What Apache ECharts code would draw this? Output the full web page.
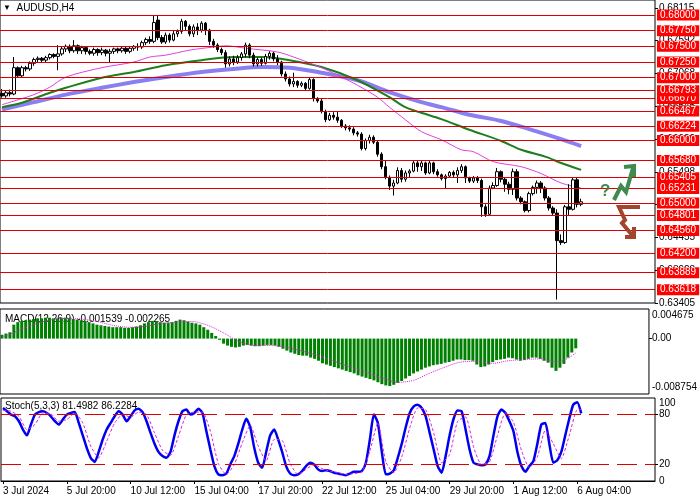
<!DOCTYPE html>
<html>
<head>
<meta charset="utf-8">
<title>AUDUSD,H4</title>
<script src="https://cdn.jsdelivr.net/npm/echarts@6/dist/echarts.min.js"></script>
<style>
  html, body { margin: 0; padding: 0; background: #fff; }
  #chart { width: 700px; height: 500px; }
</style>
</head>
<body>
<div id="chart"></div>
<script>
const FONT = '"Liberation Sans", Arial, sans-serif';
const FS = 10;

// H4 bars, 3 Jul 04:00 .. 6 Aug 08:00 (weekends skipped), plus empty slots on the right
const barCount = 146;
const padSlots = 18;

// [open, close, low, high]
const candles = [
  [0.6675,0.6671,0.6668,0.6682],[0.6671,0.6676,0.6668,0.6680],[0.6676,0.6674,0.6670,0.6681],[0.6674,0.6716,0.6672,0.6733],
  [0.6716,0.6703,0.6700,0.6718],[0.6703,0.6716,0.6701,0.6719],[0.6716,0.6714,0.6710,0.6719],[0.6714,0.6723,0.6711,0.6726],
  [0.6723,0.6729,0.6719,0.6732],[0.6729,0.6731,0.6725,0.6734],[0.6731,0.6728,0.6725,0.6733],[0.6728,0.6732,0.6725,0.6735],
  [0.6732,0.6737,0.6729,0.6739],[0.6737,0.6734,0.6731,0.6739],[0.6734,0.6738,0.6712,0.6752],[0.6738,0.6746,0.6735,0.6749],
  [0.6746,0.6750,0.6741,0.6753],[0.6750,0.6743,0.6739,0.6753],[0.6743,0.6751,0.6740,0.6760],[0.6751,0.6743,0.6738,0.6753],
  [0.6743,0.6748,0.6738,0.6751],[0.6748,0.6742,0.6737,0.6750],[0.6742,0.6739,0.6736,0.6745],[0.6739,0.6745,0.6735,0.6748],
  [0.6745,0.6740,0.6735,0.6747],[0.6740,0.6744,0.6736,0.6748],[0.6744,0.6739,0.6734,0.6746],[0.6739,0.6742,0.6725,0.6746],
  [0.6742,0.6746,0.6738,0.6748],[0.6746,0.6743,0.6739,0.6748],[0.6743,0.6747,0.6740,0.6749],[0.6747,0.6742,0.6738,0.6749],
  [0.6742,0.6747,0.6739,0.6750],[0.6747,0.6750,0.6743,0.6752],[0.6750,0.6749,0.6743,0.6755],[0.6749,0.6756,0.6746,0.6759],
  [0.6756,0.6761,0.6752,0.6764],[0.6761,0.6758,0.6754,0.6766],[0.6758,0.6788,0.6755,0.6800],[0.6792,0.6764,0.6760,0.6800],
  [0.6764,0.6757,0.6754,0.6768],[0.6757,0.6768,0.6754,0.6772],[0.6768,0.6760,0.6756,0.6771],[0.6760,0.6770,0.6758,0.6775],
  [0.6770,0.6774,0.6765,0.6777],[0.6774,0.6790,0.6770,0.6794],[0.6790,0.6782,0.6776,0.6792],[0.6782,0.6770,0.6766,0.6785],
  [0.6770,0.6781,0.6765,0.6785],[0.6781,0.6776,0.6768,0.6787],[0.6776,0.6787,0.6772,0.6790],[0.6787,0.6776,0.6768,0.6789],
  [0.6776,0.6758,0.6752,0.6778],[0.6758,0.6752,0.6748,0.6762],[0.6752,0.6745,0.6741,0.6755],[0.6745,0.6740,0.6736,0.6748],
  [0.6740,0.6722,0.6716,0.6744],[0.6722,0.6730,0.6718,0.6734],[0.6730,0.6725,0.6720,0.6735],[0.6725,0.6732,0.6722,0.6736],
  [0.6732,0.6738,0.6727,0.6741],[0.6738,0.6752,0.6733,0.6756],[0.6752,0.6736,0.6731,0.6755],[0.6736,0.6722,0.6718,0.6740],
  [0.6722,0.6729,0.6718,0.6732],[0.6729,0.6723,0.6719,0.6732],[0.6723,0.6734,0.6721,0.6738],[0.6734,0.6739,0.6729,0.6742],
  [0.6739,0.6730,0.6726,0.6741],[0.6730,0.6725,0.6720,0.6736],[0.6725,0.6706,0.6702,0.6727],[0.6706,0.6698,0.6694,0.6710],
  [0.6698,0.6690,0.6686,0.6702],[0.6690,0.6694,0.6685,0.6708],[0.6694,0.6688,0.6684,0.6696],[0.6688,0.6691,0.6685,0.6694],
  [0.6691,0.6683,0.6680,0.6693],[0.6683,0.6697,0.6681,0.6701],[0.6697,0.6667,0.6662,0.6699],[0.6667,0.6663,0.6660,0.6669],
  [0.6663,0.6646,0.6643,0.6666],[0.6646,0.6633,0.6629,0.6649],[0.6633,0.6640,0.6631,0.6644],[0.6640,0.6637,0.6633,0.6645],
  [0.6637,0.6632,0.6628,0.6646],[0.6632,0.6623,0.6620,0.6634],[0.6623,0.6620,0.6616,0.6626],[0.6620,0.6618,0.6614,0.6624],
  [0.6618,0.6612,0.6608,0.6621],[0.6612,0.6610,0.6606,0.6615],[0.6610,0.6587,0.6584,0.6613],[0.6587,0.6600,0.6584,0.6603],
  [0.6600,0.6605,0.6595,0.6609],[0.6605,0.6597,0.6594,0.6608],[0.6597,0.6578,0.6574,0.6600],[0.6578,0.6558,0.6554,0.6581],
  [0.6558,0.6541,0.6538,0.6567],[0.6541,0.6527,0.6521,0.6544],[0.6527,0.6532,0.6512,0.6537],[0.6532,0.6552,0.6530,0.6557],
  [0.6552,0.6538,0.6533,0.6556],[0.6538,0.6548,0.6534,0.6552],[0.6548,0.6551,0.6541,0.6554],[0.6551,0.6564,0.6549,0.6567],
  [0.6564,0.6558,0.6550,0.6567],[0.6558,0.6564,0.6551,0.6567],[0.6564,0.6548,0.6545,0.6566],[0.6548,0.6564,0.6546,0.6567],
  [0.6564,0.6550,0.6546,0.6566],[0.6550,0.6545,0.6542,0.6554],[0.6545,0.6539,0.6536,0.6547],[0.6539,0.6543,0.6524,0.6546],
  [0.6543,0.6549,0.6540,0.6551],[0.6549,0.6545,0.6541,0.6552],[0.6545,0.6552,0.6532,0.6557],[0.6552,0.6558,0.6548,0.6562],
  [0.6558,0.6540,0.6532,0.6560],[0.6540,0.6535,0.6532,0.6542],[0.6535,0.6540,0.6532,0.6543],[0.6540,0.6536,0.6532,0.6543],
  [0.6536,0.6494,0.6478,0.6539],[0.6494,0.6482,0.6478,0.6498],[0.6482,0.6524,0.6480,0.6528],[0.6524,0.6528,0.6522,0.6533],
  [0.6528,0.6550,0.6526,0.6556],[0.6550,0.6538,0.6533,0.6552],[0.6538,0.6530,0.6518,0.6541],[0.6530,0.6522,0.6514,0.6534],
  [0.6522,0.6550,0.6513,0.6555],[0.6550,0.6508,0.6504,0.6554],[0.6508,0.6502,0.6498,0.6511],[0.6502,0.6488,0.6485,0.6504],
  [0.6488,0.6515,0.6485,0.6518],[0.6515,0.6525,0.6512,0.6528],[0.6525,0.6532,0.6515,0.6536],[0.6532,0.6524,0.6516,0.6535],
  [0.6524,0.6508,0.6504,0.6527],[0.6508,0.6492,0.6488,0.6511],[0.6492,0.6484,0.6480,0.6495],[0.6484,0.6440,0.6346,0.6490],
  [0.6440,0.6437,0.6433,0.6450],[0.6437,0.6494,0.6435,0.6497],[0.6494,0.6490,0.6481,0.6530],[0.6490,0.6537,0.6488,0.6541],
  [0.6537,0.6498,0.6493,0.6540],[0.6498,0.6502,0.6495,0.6507]
];

// moving averages: [bar index, price]
const maFast = [[0,0.6657],[8,0.6673],[12,0.6685],[16,0.6701],[25,0.6716],[33,0.6725],[37,0.6733],[41,0.6736],[47,0.6744],
  [53,0.6749],[56,0.6751],[61,0.6747],[69,0.6741],[73,0.6733],[80,0.6716],[85,0.6701],[89,0.6688],[94,0.6669],[97,0.6653],
  [101,0.6633],[105,0.6614],[110,0.6601],[115,0.6585],[118,0.6582],[123,0.6566],[130,0.6558],[135,0.6547],[140,0.6532],[145,0.6524]];
const maMid = [[0,0.6653],[5,0.6660],[12,0.6676],[16,0.6684],[25,0.6700],[33,0.6709],[41,0.6720],[50,0.6728],[58,0.6733],
  [65,0.6733],[72,0.6728],[80,0.6717],[89,0.6696],[97,0.6669],[101,0.6653],[105,0.6644],[110,0.6634],[117,0.6617],[125,0.6599],
  [130,0.6585],[136,0.6574],[140,0.6564],[145,0.6553]];
const maSlow = [[0,0.6649],[8,0.6661],[16,0.6673],[25,0.6684],[33,0.6693],[41,0.6701],[50,0.6709],[58,0.6714],[65,0.6717],
  [72,0.6716],[80,0.6708],[89,0.6696],[97,0.6677],[105,0.6661],[110,0.6653],[117,0.6641],[125,0.6631],[132,0.6618],[140,0.6602],[145,0.6591]];

// horizontal levels with red tags, and the plain price scale labels
const levels = [0.66670, 0.68000, 0.67750, 0.67500, 0.67250, 0.67000, 0.66793, 0.66467, 0.66224, 0.66000,
  0.65680, 0.65405, 0.65231, 0.65000, 0.64801, 0.64560, 0.64200, 0.63889, 0.63618];
const priceTicks = [0.68115, 0.67592, 0.67068, 0.66545, 0.66022, 0.65498, 0.64975, 0.64455, 0.63928, 0.63405];

const macdHist = [
  0.0006,0.0008,0.0010,0.0022,0.0026,0.0028,0.0029,0.0030,0.0031,0.0032,
  0.0032,0.0033,0.0033,0.0032,0.0032,0.0033,0.0033,0.0032,0.0031,0.0030,
  0.0029,0.0028,0.0026,0.0024,0.0022,0.0021,0.0020,0.0019,0.0018,0.0018,
  0.0018,0.0017,0.0017,0.0018,0.0019,0.0021,0.0024,0.0026,0.0028,0.0027,
  0.0026,0.0025,0.0025,0.0026,0.0028,0.0030,0.0029,0.0027,0.0025,0.0024,
  0.0022,0.0018,0.0014,0.0009,0.0004,-0.0002,-0.0008,-0.0011,-0.0013,-0.0014,
  -0.0013,-0.0011,-0.0010,-0.0011,-0.0012,-0.0012,-0.0011,-0.0010,-0.0010,-0.0011,
  -0.0013,-0.0016,-0.0019,-0.0022,-0.0024,-0.0026,-0.0027,-0.0027,-0.0030,-0.0032,
  -0.0035,-0.0039,-0.0041,-0.0043,-0.0045,-0.0047,-0.0049,-0.0051,-0.0053,-0.0055,
  -0.0058,-0.0060,-0.0062,-0.0064,-0.0066,-0.0069,-0.0072,-0.0074,-0.0075,-0.0073,
  -0.0070,-0.0067,-0.0063,-0.0059,-0.0055,-0.0052,-0.0049,-0.0046,-0.0044,-0.0042,
  -0.0041,-0.0040,-0.0038,-0.0037,-0.0035,-0.0033,-0.0033,-0.0034,-0.0034,-0.0035,
  -0.0041,-0.0045,-0.0044,-0.0041,-0.0037,-0.0034,-0.0033,-0.0032,-0.0030,-0.0031,
  -0.0033,-0.0035,-0.0034,-0.0032,-0.0030,-0.0030,-0.0032,-0.0035,-0.0038,-0.0046,
  -0.0051,-0.0046,-0.0040,-0.0030,-0.0022,-0.00154
];
const macdSignal = [[0,0.0002],[4,0.0012],[8,0.0022],[12,0.0029],[16,0.0032],[20,0.0031],[24,0.0027],[28,0.0021],
  [32,0.0018],[36,0.0019],[40,0.0024],[44,0.0026],[48,0.0027],[52,0.0021],[56,0.0009],[60,-0.0005],[64,-0.0011],
  [68,-0.0011],[72,-0.0014],[76,-0.0020],[80,-0.0027],[84,-0.0036],[88,-0.0045],[92,-0.0053],[96,-0.0062],[100,-0.0069],
  [104,-0.0066],[108,-0.0055],[112,-0.0045],[116,-0.0037],[120,-0.0036],[124,-0.0039],[128,-0.0035],[132,-0.0033],
  [136,-0.0032],[140,-0.0037],[143,-0.0031],[145,-0.00227]];
const macdTicks = [0.004675, 0, -0.008754];

const stochMain = [
  88,84,80,78,72,62,55,68,80,83, 84,82,78,72,68,74,80,82,83,70,
  55,40,28,23,35,50,62,70,78,84, 80,72,78,85,87,83,72,58,45,35,
  30,28,35,55,72,84,86,80,82,87, 82,60,38,18,8,7,9,20,30,45,
  62,75,65,40,22,16,35,55,62,50, 35,18,9,7,8,12,18,22,20,14,
  12,13,12,10,9,8,7,9,11,11, 12,22,50,80,70,35,8,9,13,28,
  45,65,82,90,92,88,78,58,38,18, 10,30,55,75,85,84,62,38,22,20,
  19,20,30,55,78,86,82,72,60,35, 18,11,18,24,45,68,70,45,22,25,
  35,55,75,92,95,81.5
];
const stochSignal = [[0,85],[2,84],[4,78],[6,62],[8,68],[10,82],[12,81],[14,72],[16,74],[18,82],[20,70],[22,42],
  [24,28],[26,48],[28,70],[30,80],[32,77],[34,83],[36,80],[38,58],[40,37],[42,31],[44,54],[46,80],[48,83],[50,83],
  [52,60],[54,21],[56,8],[58,20],[60,46],[62,67],[64,42],[66,24],[68,50],[70,49],[72,21],[74,8],[76,14],[78,20],
  [80,15],[82,12],[84,10],[86,8],[88,9],[90,11],[92,36],[94,70],[96,23],[98,10],[100,29],[102,64],[104,88],[106,86],
  [108,58],[110,22],[112,32],[114,72],[116,77],[118,41],[120,20],[122,23],[124,55],[126,82],[128,71],[130,37],
  [132,16],[134,29],[136,61],[138,45],[140,27],[142,55],[144,86],[145,86.2]];
const stochLevels = [80, 20];
const stochTicks = [100, 80, 20];
const stochFloor = 0;

// category labels
const months = ['Jan','Feb','Mar','Apr','May','Jun','Jul','Aug','Sep','Oct','Nov','Dec'];
const categories = [];
for (let t = Date.UTC(2024, 6, 3, 4); categories.length < barCount; t += 4 * 3600 * 1000) {
  const d = new Date(t);
  const wd = d.getUTCDay();
  if (wd === 0 || wd === 6) continue;
  const hh = String(d.getUTCHours()).padStart(2, '0');
  categories.push(categories.length === 0
    ? d.getUTCDate() + ' ' + months[d.getUTCMonth()] + ' ' + d.getUTCFullYear()
    : d.getUTCDate() + ' ' + months[d.getUTCMonth()] + ' ' + hh + ':00');
}
for (let k = 0; k < padSlots; k++) categories.push('');

const chart = echarts.init(document.getElementById('chart'), null, { renderer: 'canvas' });

const gridBase = { left: 0, right: 45, show: true, borderColor: '#000', borderWidth: 1, backgroundColor: '#fff' };
const hiddenX = (gi) => ({
  type: 'category', gridIndex: gi, data: categories, boundaryGap: true,
  axisLine: { show: false }, axisTick: { show: false }, axisLabel: { show: false }, splitLine: { show: false }
});
const labelText = { color: '#000', fontSize: FS, fontFamily: FONT, showMinLabel: true, showMaxLabel: true };
const titleText = { fontSize: FS, fontWeight: 'normal', color: '#000', fontFamily: FONT };

chart.setOption({
  animation: false,
  backgroundColor: '#fff',
  textStyle: { fontFamily: FONT },
  title: [
    { text: '{tri|\u25BC}  AUDUSD,H4', left: 3, top: 3, padding: 0, z: 1,
      textStyle: Object.assign({ rich: { tri: { fontSize: 8, color: '#000' } } }, titleText) },
    { text: 'MACD(12,26,9) -0.001539 -0.002265', left: 5, top: 314, padding: 0, z: 1, textStyle: titleText },
    { text: 'Stoch(5,3,3) 81.4982 86.2284', left: 5, top: 401, padding: 0, z: 1, textStyle: titleText }
  ],
  grid: [
    Object.assign({ top: 0, height: 303 }, gridBase),
    Object.assign({ top: 309, height: 85 }, gridBase),
    Object.assign({ top: 398, height: 83 }, gridBase)
  ],
  xAxis: [
    hiddenX(0),
    hiddenX(1),
    {
      type: 'category', gridIndex: 2, data: categories, boundaryGap: true,
      axisLine: { show: true, lineStyle: { color: '#000' } },
      axisTick: { show: true, interval: 15, alignWithLabel: true, length: 3, lineStyle: { color: '#000' } },
      axisLabel: Object.assign({ interval: 15, align: 'left', margin: 5 }, labelText, { showMaxLabel: false }),
      splitLine: { show: false }
    }
  ],
  yAxis: [
    {
      type: 'value', gridIndex: 0, position: 'right', min: 0.63405, max: 0.6824,
      splitLine: { show: false }, axisLine: { show: false },
      axisTick: { show: true, customValues: priceTicks, length: 3, lineStyle: { color: '#000' } },
      axisLabel: Object.assign({ customValues: priceTicks, margin: 4, formatter: (v) => v.toFixed(5) }, labelText)
    },
    {
      type: 'value', gridIndex: 1, position: 'right', min: -0.008754, max: 0.004675,
      splitLine: { show: false }, axisLine: { show: false },
      axisTick: { show: true, customValues: [0], length: 3, lineStyle: { color: '#000' } },
      axisLabel: Object.assign({
        customValues: macdTicks, margin: 3,
        formatter: (v) => v === 0 ? '0.00' : (v > 0 ? '{t|' + v.toFixed(6) + '}' : '{b|' + v.toFixed(6) + '}'),
        rich: { t: { padding: [12, 0, 0, 0], fontSize: FS }, b: { padding: [0, 0, 14, 0], fontSize: FS } }
      }, labelText)
    },
    {
      type: 'value', gridIndex: 2, position: 'right', min: 0, max: 100,
      splitLine: { show: false }, axisLine: { show: false },
      axisTick: { show: true, customValues: [80, 20], length: 3, lineStyle: { color: '#000' } },
      axisLabel: Object.assign({
        customValues: stochTicks, margin: 4,
        formatter: (v) => v === 100 ? '{t|100}' : String(v),
        rich: { t: { padding: [10, 0, 0, 0], fontSize: FS } }
      }, labelText)
    }
  ],
  series: [
    { name: 'MA slow', type: 'line', xAxisIndex: 0, yAxisIndex: 0, data: maSlow, showSymbol: false, smooth: 0.3,
      lineStyle: { color: '#8a7ff0', width: 4 }, z: 1, silent: true },
    { name: 'MA mid', type: 'line', xAxisIndex: 0, yAxisIndex: 0, data: maMid, showSymbol: false, smooth: 0.3,
      lineStyle: { color: '#1e7d1e', width: 2 }, z: 2, silent: true },
    { name: 'MA fast', type: 'line', xAxisIndex: 0, yAxisIndex: 0, data: maFast, showSymbol: false, smooth: 0.3,
      lineStyle: { color: '#e040e0', width: 1 }, z: 3, silent: true },
    {
      name: 'AUDUSD', type: 'candlestick', xAxisIndex: 0, yAxisIndex: 0, data: candles, barWidth: 3, z: 4,
      itemStyle: { color: '#fff', color0: '#000', borderColor: '#000', borderColor0: '#000', borderWidth: 1 },
      markLine: {
        silent: true, symbol: ['none', 'none'], animation: false, precision: 5,
        lineStyle: { color: '#dd0000', width: 1, type: 'solid' },
        label: {
          show: true, position: 'end', distance: 2, formatter: (p) => Number(p.value).toFixed(5),
          color: '#fff', backgroundColor: '#ff0000', padding: [1, 3, 0, 3], fontSize: FS, fontFamily: FONT
        },
        data: levels.map((v) => ({ yAxis: v }))
      }
    },
    { name: 'MACD', type: 'bar', xAxisIndex: 1, yAxisIndex: 1, data: macdHist, barWidth: 3,
      itemStyle: { color: '#008000' }, silent: true },
    { name: 'Signal', type: 'line', xAxisIndex: 1, yAxisIndex: 1, data: macdSignal, showSymbol: false, smooth: 0.3,
      lineStyle: { color: '#e020e0', width: 1, type: 'dotted' }, z: 3, silent: true },
    { name: 'Stoch', type: 'line', xAxisIndex: 2, yAxisIndex: 2, data: stochMain, showSymbol: false, smooth: 0.2,
      lineStyle: { color: '#0000ee', width: 2.5 }, z: 3, silent: true,
      markLine: {
        silent: true, symbol: ['none', 'none'], animation: false, label: { show: false },
        lineStyle: { color: '#e00000', width: 1, type: [20, 8] },
        data: stochLevels.map((v) => ({ yAxis: v })).concat([{
          yAxis: stochFloor + 0.001, lineStyle: { color: 'rgba(0,0,0,0)', width: 1, type: 'solid' },
          label: { show: true, position: 'end', distance: 4, formatter: String(stochFloor), color: '#000',
            fontSize: FS, fontFamily: FONT, padding: [0, 0, 16, 0] }
        }])
      } },
    { name: 'Stoch signal', type: 'line', xAxisIndex: 2, yAxisIndex: 2, data: stochSignal, showSymbol: false, smooth: 0.2,
      lineStyle: { color: '#e020e0', width: 1, type: [3, 2] }, z: 4, silent: true }
  ],
  graphic: [
    { type: 'polyline', shape: { points: [[614, 200], [621, 186], [626, 192], [633, 168]] },
      style: { stroke: '#3f8a4d', lineWidth: 4, fill: null, lineJoin: 'miter' }, z: 10 },
    { type: 'polyline', shape: { points: [[624, 167], [634, 166], [634, 177]] },
      style: { stroke: '#3f8a4d', lineWidth: 4, fill: null, lineJoin: 'miter' }, z: 10 },
    { type: 'text', left: 600, top: 183, z: 10,
      style: { text: '?', fill: '#3f8a4d', font: 'bold 17px ' + FONT } },
    { type: 'polyline', shape: { points: [[640, 207], [619, 207], [625, 220], [622, 223], [632, 235]] },
      style: { stroke: '#a4442c', lineWidth: 4, fill: null, lineJoin: 'miter' }, z: 10 },
    { type: 'polyline', shape: { points: [[625, 237], [634, 237], [634, 227]] },
      style: { stroke: '#a4442c', lineWidth: 4, fill: null, lineJoin: 'miter' }, z: 10 }
  ]
});
</script>
</body>
</html>
